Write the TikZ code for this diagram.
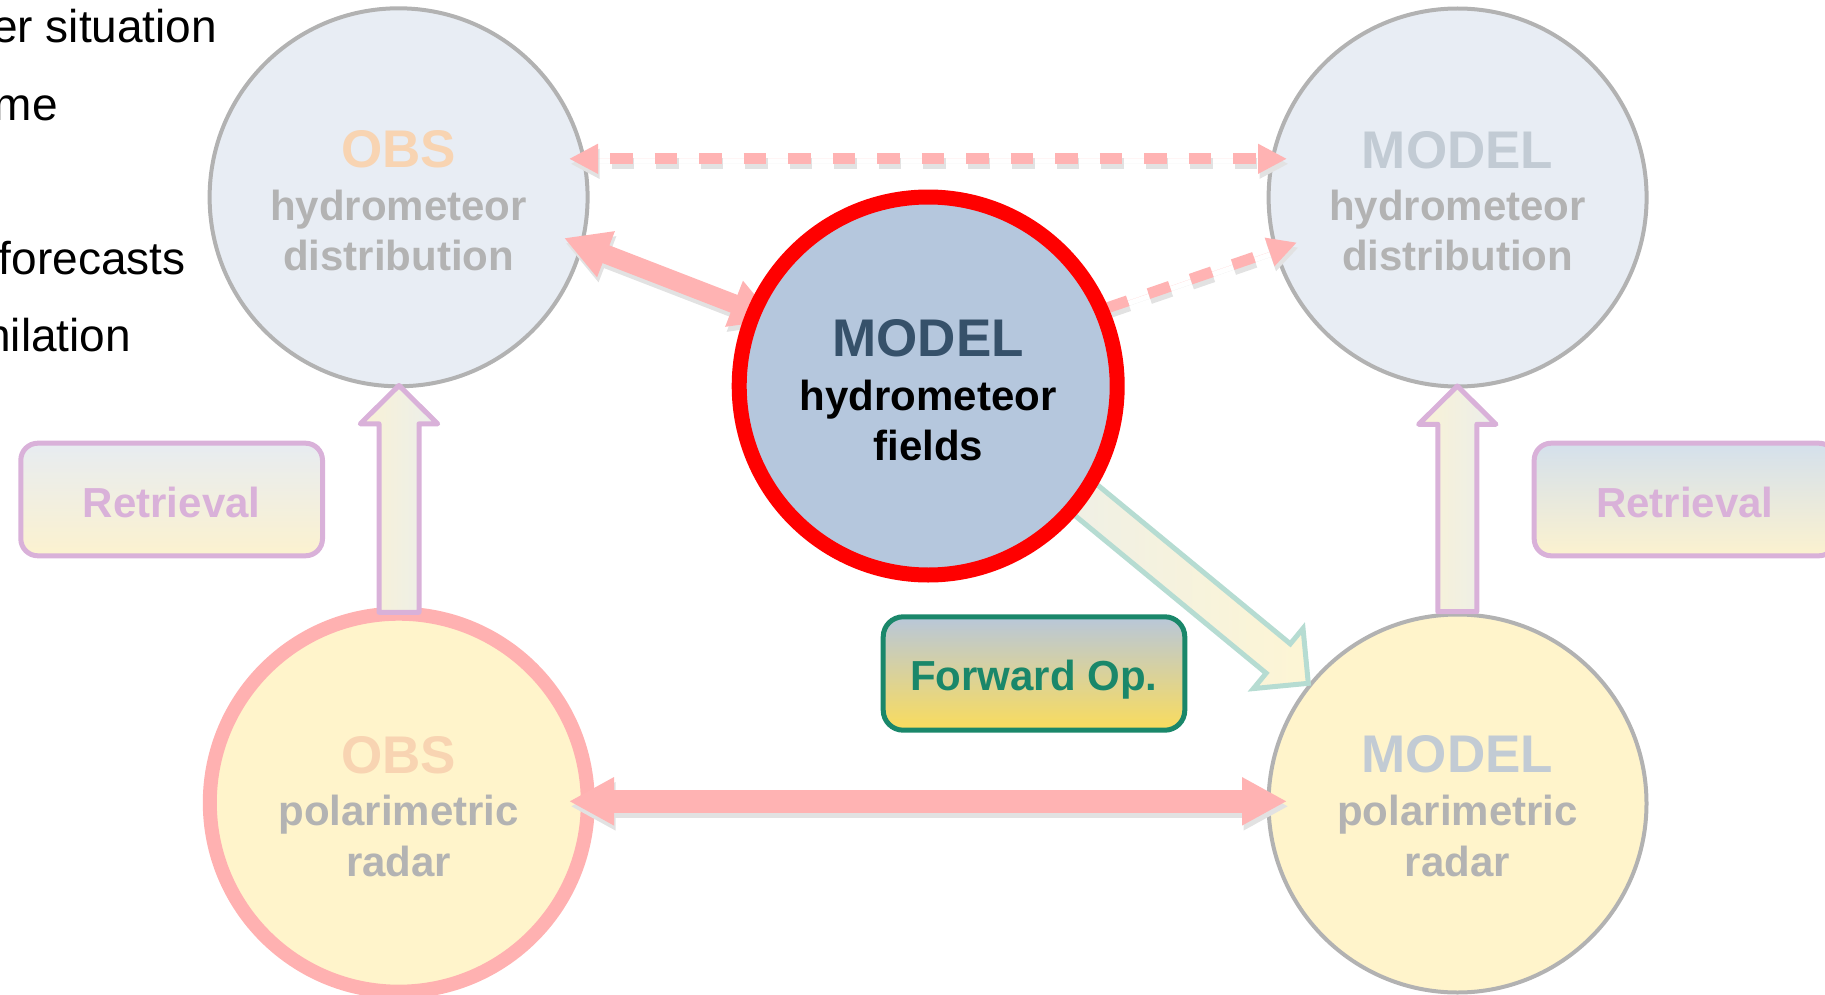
\documentclass[tikz,border=0pt]{standalone}
\usepackage{fontspec}
\setmainfont{Liberation Sans}
\usetikzlibrary{arrows.meta,calc}

\definecolor{hydfill}{HTML}{E8EDF4}
\definecolor{circgray}{HTML}{B2B2B2}
\definecolor{obsor}{HTML}{F8D4B2}
\definecolor{modgray}{HTML}{C2CBD4}
\definecolor{subgray}{HTML}{B3B3B3}
\definecolor{cenfill}{HTML}{B5C7DD}
\definecolor{cenred}{HTML}{FF0000}
\definecolor{cenblue}{HTML}{36516A}
\definecolor{polfill}{HTML}{FFF4CB}
\definecolor{polpink}{HTML}{FFB1B1}
\definecolor{arrpink}{HTML}{FFB3B3}
\definecolor{shadowgray}{HTML}{E2E2E2}
\definecolor{retpurple}{HTML}{D9B1D9}
\definecolor{rettop}{HTML}{E7ECF1}
\definecolor{rettopb}{HTML}{D4E0EC}
\definecolor{retbot}{HTML}{FCF2CF}
\definecolor{fwdgreen}{HTML}{1A876A}
\definecolor{fwdtop}{HTML}{B8C7DA}
\definecolor{fwdbot}{HTML}{FADC5C}
\definecolor{fwdline}{HTML}{B6DCD2}
\definecolor{fwdleft}{HTML}{E8EDEF}
\definecolor{fwdright}{HTML}{FDF5D4}
\definecolor{upleft}{HTML}{F9F2D5}
\definecolor{upright}{HTML}{EBEEEB}

\newcommand\mytitle{\fontsize{26.5pt}{30pt}\selectfont\bfseries}
\newcommand\mysubt{\fontsize{21pt}{25pt}\selectfont\bfseries}
\newcommand\mybody{\fontsize{23pt}{27pt}\selectfont}

\begin{document}
\begin{tikzpicture}[x=0.5pt,y=-0.5pt,
  bigcirc/.style={circle, minimum size=189pt, inner sep=0pt, outer sep=0pt},
  hydc/.style={bigcirc, fill=hydfill, draw=circgray, line width=2pt},
  polobs/.style={bigcirc, fill=polfill, draw=polpink, line width=7pt},
  polmod/.style={bigcirc, fill=polfill, draw=circgray, line width=2pt},
  cenc/.style={bigcirc, fill=cenfill, draw=cenred, line width=7.5pt},
  ttl/.style={anchor=base, inner sep=0pt, font=\mytitle},
  sbt/.style={anchor=base, inner sep=0pt, font=\mysubt, text=subgray},
  retbox/.style={rectangle, rounded corners=8.5pt, minimum width=150.85pt,
    minimum height=56.3pt, draw=retpurple, line width=2.5pt,
    bottom color=retbot, inner sep=0pt},
  rettext/.style={anchor=base, inner sep=0pt, font=\mysubt, text=retpurple},
  fwdbox/.style={rectangle, rounded corners=10pt, minimum width=150.8pt,
    minimum height=56.7pt, draw=fwdgreen, line width=2.5pt,
    top color=fwdtop, bottom color=fwdbot, inner sep=0pt},
  dasharr/.style={line width=5.5pt, dash pattern=on 11.25pt off 11pt},
  dtip/.style={arrows={-Triangle[length=14.5pt,width=14pt]}},
  ddtip/.style={arrows={Triangle[length=14.5pt,width=14pt]-Triangle[length=14.5pt,width=14pt]}},
  thickarr/.style={line width=9.5pt, arrows={Triangle[length=22.5pt,width=23pt]-Triangle[length=22.5pt,width=23pt]}},
  botarr/.style={line width=11.4pt, arrows={Triangle[length=22.5pt,width=22.5pt]-Triangle[length=22.5pt,width=22.5pt]}},
  uparrow/.style={draw=retpurple, line width=2.5pt, line join=round,
    left color=upleft, right color=upright},
  fwdarrow/.style={draw=fwdline, line width=2.5pt, line join=miter,
    left color=fwdleft, right color=fwdright},
  bodytext/.style={anchor=base east, inner sep=0pt, font=\mybody}
]
\useasboundingbox (0,0) rectangle (1825,995);

% outer circles
\node[hydc] (obshyd) at (398.6,197.3) {};
\node[hydc] (modhyd) at (1457.6,197.5) {};
\node[polobs] (obspol) at (398.8,802.7) {};
\node[polmod] (modpol) at (1457.5,803.5) {};

% texts in outer circles
\node[ttl, text=obsor] (t-obshyd1) at (398.6,168) {OBS};
\node[sbt] (t-obshyd2) at (398.6,220) {hydrometeor};
\node[sbt] (t-obshyd3) at (398.6,270.5) {distribution};
\node[ttl, text=modgray] (t-modhyd1) at (1457.6,168.3) {MODEL};
\node[sbt] (t-modhyd2) at (1457.6,220) {hydrometeor};
\node[sbt] (t-modhyd3) at (1457.6,270.7) {distribution};
\node[ttl, text=obsor] (t-obspol1) at (398.8,773.5) {OBS};
\node[sbt] (t-obspol2) at (398.8,825.5) {polarimetric};
\node[sbt] (t-obspol3) at (398.8,876) {radar};
\node[ttl, text=modgray] (t-modpol1) at (1457.5,772.7) {MODEL};
\node[sbt] (t-modpol2) at (1457.5,825) {polarimetric};
\node[sbt] (t-modpol3) at (1457.5,876) {radar};

% arrow end points
\coordinate (topL) at (569,158.8);
\coordinate (topR) at (1287,158.8);
\coordinate (diagL) at (564,238);
\coordinate (diagR) at (776,320);
\coordinate (dashS) at (1079.5,317.4);
\coordinate (dashT) at (1297,242.5);
\coordinate (botL) at (569,801.3);
\coordinate (botR) at (1287,801.3);
\coordinate (fwdtip) at (1308.3,683.3);
\coordinate (upLtip) at (399,385.5);
\coordinate (upRtip) at (1457.3,386);

% shadows
\begin{scope}[transform canvas={shift={(1.5,5)}}]
  \draw[dasharr, ddtip, draw=shadowgray, fill=shadowgray, dash phase=15.25pt] (topL) -- (topR);
  \draw[thickarr, draw=shadowgray, fill=shadowgray] (diagL) -- (diagR);
  \draw[dasharr, dtip, draw=shadowgray, fill=shadowgray, dash phase=8pt] (dashS) -- (dashT);
  \draw[botarr, draw=shadowgray, fill=shadowgray] (botL) -- (botR);
\end{scope}

% pink arrows
\draw[dasharr, ddtip, draw=arrpink, fill=arrpink, dash phase=15.25pt] (topL) -- (topR);
\draw[thickarr, draw=arrpink, fill=arrpink] (diagL) -- (diagR);
\draw[dasharr, dtip, draw=arrpink, fill=arrpink, dash phase=8pt] (dashS) -- (dashT);
\draw[botarr, draw=arrpink, fill=arrpink] (botL) -- (botR);

% forward operator block arrow
\draw[fwdarrow, shift={(fwdtip)}, rotate=-39.5]
  (0,0) -- (-39,39) -- (-39,19) -- (-470,19) -- (-470,-19) -- (-39,-19) -- (-39,-39) -- cycle;

% central circle
\node[cenc] (cen) at (928.2,386) {};
\node[ttl, text=cenblue] (t-cen1) at (928.2,356.7) {MODEL};
\node[sbt, text=black] (t-cen2) at (928.2,410) {hydrometeor};
\node[sbt, text=black] (t-cen3) at (928.2,460) {fields};

% retrieval block arrows
\draw[uparrow, shift={(upLtip)}]
  (0,0) -- (-38.7,38.3) -- (-20,38.3) -- (-20,226.8) -- (20,226.8) -- (20,38.3) -- (38.7,38.3) -- cycle;
\draw[uparrow, shift={(upRtip)}]
  (0,0) -- (-38.7,38.3) -- (-19.5,38.3) -- (-19.5,225.7) -- (19.5,225.7) -- (19.5,38.3) -- (38.7,38.3) -- cycle;

% boxes
\node[retbox, top color=rettop] (retL) at (171.65,499.5) {};
\node[rettext] (t-retL) at (171.7,517.3) {Retrieval};
\node[retbox, top color=rettopb] (retR) at (1685,499.5) {};
\node[rettext] (t-retR) at (1684.7,517.3) {Retrieval};
\node[fwdbox] (fwd) at (1034,673.5) {};
\node[anchor=base, inner sep=0pt, font=\mysubt, text=fwdgreen] (t-fwd) at (1033.7,690.7) {Forward Op.};

% left text
\node[bodytext] (l1) at (217.6,43) {er situation};
\node[bodytext] (l2) at (58,120) {me};
\node[bodytext] (l3) at (186,274) {forecasts};
\node[bodytext] (l4) at (131.5,351.5) {nilation};
\end{tikzpicture}
\end{document}
